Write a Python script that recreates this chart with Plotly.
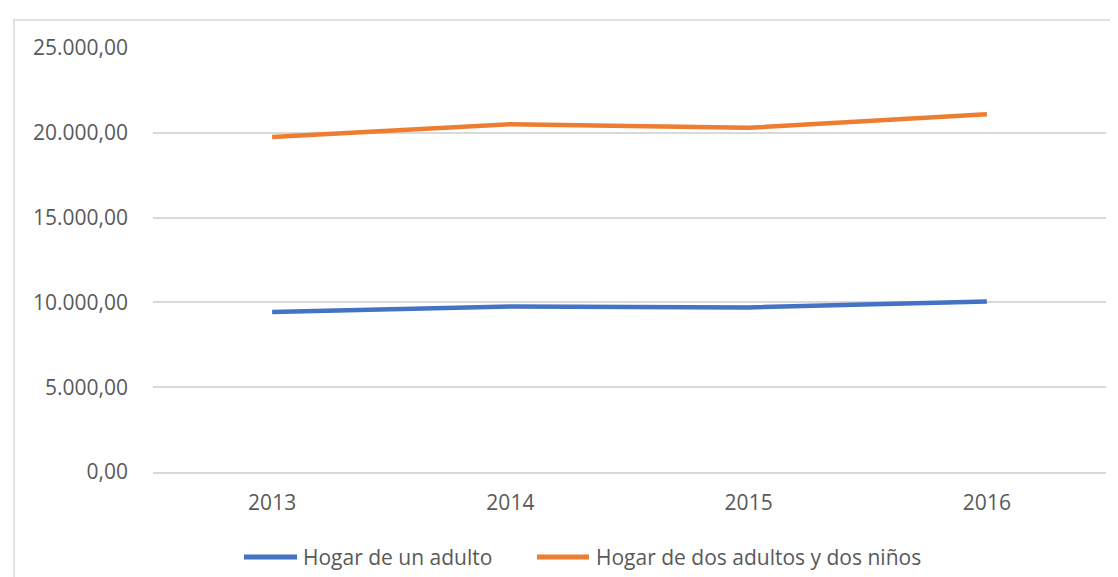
import plotly.graph_objects as go

years = ["2013", "2014", "2015", "2016"]
hogar_un_adulto = [9430, 9765, 9705, 10060]
hogar_dos_adultos_dos_ninos = [19750, 20510, 20295, 21100]
series_names = ["Hogar de un adulto", "Hogar de dos adultos y dos niños"]
colors = ["#4472C4", "#ED7D31"]
y_ticks = [0, 5000, 10000, 15000, 20000, 25000]

W, H = 1118, 577
L, R, T, B = 145, 20, 40, 113
pw = W - L - R
ph = H - T - B


def px_x(px):
    return (px - L) / pw


def px_y(py):
    return (H - B - py) / ph


fig = go.Figure()
for name, vals, col in zip(series_names, [hogar_un_adulto, hogar_dos_adultos_dos_ninos], colors):
    fig.add_trace(go.Scatter(x=years, y=vals, mode="lines", name=name,
                             line=dict(color=col, width=4.5), showlegend=False))

font = dict(family="Open Sans, Liberation Sans, sans-serif", size=21, color="#595959")

# legend drawn as key lines + text, Excel style
legend_items = [(236, 289, 293), (529, 581, 586)]
shapes = [dict(type="rect", xref="paper", yref="paper",
               x0=px_x(6), x1=px_x(W + 10), y0=px_y(H + 10), y1=px_y(12),
               line=dict(color="#D9D9D9", width=1.5), fillcolor="rgba(0,0,0,0)",
               layer="below")]
annotations = []
for (x0, x1, xt), name, col in zip(legend_items, series_names, colors):
    shapes.append(dict(type="line", xref="paper", yref="paper",
                       x0=px_x(x0), x1=px_x(x1), y0=px_y(549), y1=px_y(549),
                       line=dict(color=col, width=5)))
    annotations.append(dict(xref="paper", yref="paper", x=px_x(xt), y=px_y(549),
                            xanchor="left", yanchor="middle", text=name,
                            showarrow=False, font=font))

fig.update_layout(
    width=W, height=H,
    margin=dict(l=L, r=R, t=T, b=B, pad=0),
    paper_bgcolor="white", plot_bgcolor="white",
    separators=",.",
    font=font,
    showlegend=False,
    xaxis=dict(type="category", range=[-0.5, 3.5], showgrid=False,
               showline=True, linecolor="#D9D9D9", linewidth=1.5,
               ticks="", ticklabelstandoff=11, tickfont=font, zeroline=False),
    yaxis=dict(range=[0, 25000], tickvals=y_ticks, tickformat=",.2f",
               showgrid=True, gridcolor="#D9D9D9", gridwidth=1.5,
               showline=False, zeroline=False, ticks="",
               ticklabelstandoff=24, tickfont=font),
    shapes=shapes,
    annotations=annotations,
)

fig.write_html("out.html")
